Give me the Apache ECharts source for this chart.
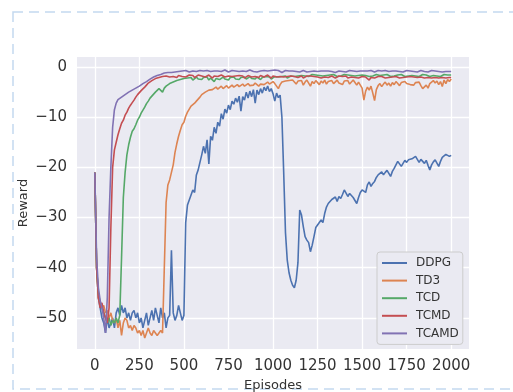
<!DOCTYPE html>
<html><head><meta charset="utf-8">
<script src="https://cdn.jsdelivr.net/npm/echarts@6/dist/echarts.min.js"></script>
<style>html,body{margin:0;padding:0;background:#fff;}#c{width:513px;height:392px;}</style>
</head><body><div id="c"></div>
<script>
// Episodes sampled every 10 steps (0..2000)
const episodes = Array.from({length: 201}, (_, i) => i * 10);
const xTicks = [0, 250, 500, 750, 1000, 1250, 1500, 1750, 2000];
const yTicks = [-50, -40, -30, -20, -10, 0];
const seriesNames = ['DDPG', 'TD3', 'TCD', 'TCMD', 'TCAMD'];

const DDPG = [
-21,-40,-46,-48,-50,-51,-53,-50,-52,-51,
-50,-52,-49,-48,-49.5,-47.5,-49,-48,-50,-49,
-50.5,-49,-48.5,-50,-49,-51,-50,-52,-50.5,-49,
-51.5,-50,-48.5,-50.5,-48,-49.5,-51,-48,-50,-49,
-52,-50,-49.5,-36.5,-49,-50.5,-49.5,-47.5,-49,-50.5,
-49.5,-31,-27.5,-26.5,-25.5,-24.5,-25,-21.5,-20.5,-19,
-17.5,-15.8,-17.2,-14.5,-19.3,-13.8,-14.6,-12.0,-13.2,-11.0,
-11.8,-9.3,-10.4,-8.4,-9.2,-7.6,-8.5,-6.8,-7.4,-6.2,
-7.0,-5.8,-8.8,-5.9,-6.6,-5.0,-6.2,-4.8,-5.9,-4.5,
-7.2,-4.6,-5.5,-4.3,-5.2,-4.0,-4.7,-3.8,-4.9,-4.3,
-5.3,-6.8,-5.2,-6.1,-5.6,-10,-21,-33,-38.5,-41,
-42.5,-43.5,-44,-42.5,-39,-28.5,-29.5,-31.8,-33.8,-34.5,
-35,-36.8,-35.5,-33.8,-32,-31.5,-31.2,-30.5,-31,-29.2,
-27.9,-27.2,-26.9,-26.4,-26.2,-25.9,-26.8,-25.8,-26.2,-25.4,
-24.5,-24.3,-25.8,-25.2,-25.6,-26.0,-26.2,-27.2,-26.0,-25.0,
-24.5,-24.2,-25.0,-23.5,-22.9,-23.8,-23.2,-22.8,-22.0,-21.5,
-21.2,-20.9,-21.5,-21.0,-20.6,-20.5,-21.8,-20.8,-20.2,-19.5,
-18.8,-18.5,-19.8,-19.2,-18.6,-19.0,-18.5,-18.8,-18.3,-18.2,
-17.8,-17.5,-19.0,-18.4,-18.8,-19.2,-18.6,-19.6,-20.5,-19.5,
-18.9,-18.5,-18.4,-19.8,-18.8,-18.0,-17.9,-17.4,-17.2,-17.8,
-17.6];

const TD3 = [
-21,-40,-46,-47,-48,-47.5,-49,-48.5,-50,-49,
-50.5,-51,-50,-52,-50.5,-53.5,-51,-50,-50.5,-52,
-51.5,-52.5,-51.5,-52,-53,-52.5,-53.5,-52.5,-54,-53,
-52,-53,-53.5,-52.5,-53,-53.5,-53,-52.5,-53,-40,
-27,-23.5,-22.5,-21,-19.5,-17,-15.3,-13.8,-12.6,-11.5,
-11,-9.8,-9,-8.4,-7.8,-7.6,-7.2,-6.8,-6.5,-6.0,
-5.5,-5.2,-5.0,-4.9,-4.6,-4.3,-4.5,-4.2,-4.0,-4.4,
-4.1,-3.8,-4.3,-4.0,-3.7,-4.2,-3.9,-3.6,-4.0,-3.7,
-3.5,-3.9,-3.6,-3.4,-3.8,-3.5,-3.3,-3.7,-3.4,-3.6,
-3.2,-3.5,-3.8,-3.4,-3.1,-3.5,-3.3,-3.0,-3.4,-3.2,
-2.9,-3.3,-3.6,-4.3,-3.5,-3.0,-3.3,-2.8,-3.1,-2.7,
-3.0,-2.6,-2.9,-3.4,-2.8,-3.1,-2.7,-3.6,-3.0,-2.6,
-3.2,-3.8,-2.9,-3.3,-2.7,-3.0,-3.5,-2.8,-3.2,-2.6,
-3.4,-2.9,-3.1,-2.7,-3.3,-3.0,-2.6,-3.2,-2.9,-3.5,
-2.8,-3.0,-2.7,-3.4,-3.0,-2.6,-3.1,-3.6,-3.0,-3.3,
-4.2,-6.6,-4.8,-4.0,-4.6,-3.8,-5.2,-6.7,-4.5,-3.7,
-3.3,-3.9,-3.4,-3.0,-3.6,-3.2,-3.8,-3.1,-3.5,-2.9,
-3.3,-3.7,-3.1,-3.4,-2.9,-3.3,-3.0,-3.5,-3.2,-3.6,
-3.1,-3.4,-3.0,-3.7,-4.3,-4.5,-3.6,-4.2,-3.3,-3.0,
-2.7,-3.2,-2.8,-3.5,-2.9,-3.9,-2.6,-3.3,-2.5,-2.9,
-2.4];

const TCD = [
-21,-40,-45,-47,-48,-49,-50,-51,-50,-51.5,
-50.5,-51,-50,-51,-49.5,-38,-26,-21,-17.5,-15.5,
-14,-12.8,-12.3,-11.5,-10.6,-10.0,-9.2,-8.6,-8.0,-7.3,
-6.8,-6.2,-5.8,-5.4,-5.0,-4.8,-4.3,-4.5,-5.0,-4.2,
-3.8,-3.6,-3.3,-3.1,-3.0,-2.8,-2.7,-2.6,-2.5,-2.4,
-2.3,-2.5,-2.2,-2.4,-2.1,-2.6,-2.3,-2.0,-2.4,-2.2,
-2.5,-2.1,-2.3,-2.0,-2.6,-2.2,-2.4,-2.9,-2.3,-2.1,
-2.5,-2.2,-2.0,-2.4,-2.2,-2.6,-2.1,-2.3,-2.0,-2.4,
-2.2,-2.5,-2.1,-2.3,-2.0,-2.4,-2.2,-1.9,-2.3,-2.1,
-2.4,-2.0,-2.2,-2.5,-2.1,-2.3,-1.9,-2.2,-2.0,-2.4,
-2.1,-1.9,-2.2,-2.0,-2.3,-1.9,-2.1,-1.8,-2.2,-2.0,
-1.8,-1.7,-1.9,-1.6,-1.8,-2.0,-1.7,-1.5,-1.8,-1.6,
-1.9,-1.7,-1.5,-1.8,-1.6,-1.9,-1.7,-1.6,-1.8,-1.5,
-1.7,-1.9,-1.6,-1.8,-1.5,-1.7,-1.9,-1.6,-1.8,-1.7,
-1.5,-1.8,-1.6,-1.9,-1.7,-1.5,-1.8,-1.6,-1.7,-1.9,
-1.6,-1.8,-1.7,-1.5,-1.9,-1.6,-1.8,-1.7,-1.5,-1.8,
-1.7,-1.9,-1.6,-1.8,-1.5,-1.7,-1.9,-1.6,-1.8,-1.7,
-1.6,-1.8,-1.5,-1.7,-1.9,-1.6,-1.8,-1.5,-1.7,-1.6,
-1.8,-1.6,-1.9,-1.7,-1.5,-1.8,-1.6,-1.7,-1.9,-1.6,
-1.7,-1.5,-1.8,-1.6,-1.9,-1.7,-1.5,-1.8,-1.6,-1.7,
-1.6];

const TCMD = [
-21,-40,-46,-48,-47,-49,-50,-51,-48,-32,
-20,-16.5,-15,-13.5,-12.3,-11.2,-10.6,-9.6,-9.0,-8.2,
-7.6,-7.1,-6.6,-6.0,-5.5,-5.1,-4.7,-4.4,-4.0,-3.6,
-3.2,-2.9,-2.7,-2.6,-2.3,-2.2,-2.1,-2.0,-1.9,-2.1,
-1.8,-1.9,-2.0,-1.7,-1.9,-1.8,-2.1,-1.7,-1.8,-1.9,
-1.7,-2.0,-1.8,-1.6,-1.9,-1.7,-2.1,-1.8,-1.6,-1.9,
-1.8,-1.7,-2.0,-1.8,-1.6,-1.9,-2.2,-1.8,-1.7,-1.9,
-1.8,-1.6,-1.9,-2.0,-1.7,-1.8,-2.1,-1.9,-1.7,-1.8,
-2.0,-1.7,-1.9,-1.8,-2.2,-1.9,-1.7,-1.8,-2.0,-1.7,
-1.9,-1.8,-2.1,-1.7,-1.9,-2.0,-1.8,-1.6,-1.9,-2.2,
-1.8,-1.7,-2.0,-2.3,-1.9,-1.8,-2.0,-1.7,-1.9,-2.1,
-1.8,-2.0,-1.9,-1.7,-2.1,-1.9,-1.8,-2.2,-1.9,-1.8,
-2.0,-1.8,-2.1,-1.9,-1.7,-2.0,-1.8,-2.2,-1.9,-2.0,
-1.8,-2.1,-1.9,-1.8,-2.0,-2.2,-1.9,-1.8,-2.1,-1.9,
-2.0,-1.8,-2.2,-1.9,-2.0,-1.8,-2.1,-1.9,-2.2,-2.0,
-1.9,-2.1,-2.0,-2.3,-2.6,-2.1,-1.9,-2.2,-2.0,-1.9,
-2.1,-1.9,-2.0,-2.2,-1.9,-2.1,-1.8,-2.0,-2.2,-1.9,
-2.0,-2.2,-1.9,-2.1,-1.8,-2.0,-2.2,-1.9,-2.1,-2.0,
-1.9,-2.1,-2.3,-2.0,-1.9,-2.2,-2.0,-2.1,-1.9,-2.2,
-2.0,-2.1,-1.9,-2.2,-2.0,-2.1,-1.9,-2.2,-2.0,-2.1,
-2.1];

const TCAMD = [
-21,-38,-44,-46.5,-48,-50,-53,-46,-30,-20,
-12,-8.5,-7.2,-6.5,-6.2,-6.0,-5.7,-5.5,-5.2,-5.0,
-4.7,-4.6,-4.3,-4.2,-3.9,-3.8,-3.6,-3.3,-3.2,-2.9,
-2.6,-2.4,-2.2,-2.0,-1.9,-1.7,-1.6,-1.5,-1.4,-1.2,
-1.3,-1.1,-1.0,-1.1,-0.9,-1.0,-0.8,-0.9,-0.7,-0.8,
-0.9,-0.7,-0.8,-1.0,-0.7,-0.8,-0.6,-0.9,-0.8,-0.7,
-0.9,-0.8,-1.0,-0.7,-0.8,-0.9,-0.7,-0.8,-1.1,-0.8,
-0.7,-0.9,-0.8,-0.6,-0.8,-1.0,-0.8,-0.7,-0.9,-0.8,
-0.7,-0.9,-1.1,-0.8,-0.7,-0.9,-0.8,-0.6,-0.8,-0.9,
-0.8,-1.0,-0.7,-0.8,-0.9,-0.7,-0.6,-0.8,-0.9,-0.7,
-0.5,-0.6,-0.8,-0.7,-0.9,-1.1,-0.8,-0.7,-0.9,-0.8,
-1.0,-0.8,-0.7,-0.9,-0.8,-1.0,-0.9,-0.7,-0.8,-1.0,
-0.8,-0.9,-0.7,-0.8,-1.0,-0.9,-0.7,-0.8,-0.9,-0.8,
-1.0,-0.8,-0.7,-0.9,-0.8,-1.1,-0.9,-0.8,-0.7,-0.9,
-0.8,-1.0,-0.8,-0.7,-0.9,-0.8,-1.0,-0.9,-0.7,-0.8,
-0.7,-0.8,-0.6,-0.8,-0.9,-0.7,-0.8,-1.0,-0.8,-0.7,
-0.9,-0.8,-1.0,-0.7,-0.8,-0.9,-0.7,-0.8,-1.0,-0.8,
-0.7,-0.9,-0.8,-1.0,-0.8,-0.7,-0.9,-0.8,-0.7,-0.9,
-0.8,-1.0,-0.9,-0.7,-0.8,-0.9,-0.8,-1.0,-0.8,-0.7,
-0.9,-0.8,-0.7,-0.9,-0.8,-1.0,-0.8,-0.9,-0.8,-0.9,
-0.9];

const seriesValues = [DDPG, TD3, TCD, TCMD, TCAMD];
const colors = ['#4C72B0', '#DD8452', '#55A868', '#C44E52', '#8172B3'];
const fmt = v => (v < 0 ? '\u2212' + Math.abs(v) : String(v));

const chart = echarts.init(document.getElementById('c'), null, {renderer: 'canvas'});
const option = {
  animation: false,
  backgroundColor: '#ffffff',
  textStyle: {fontFamily: 'DejaVu Sans'},
  graphic: [{
    type: 'rect', silent: true, z: -10,
    shape: {x: 13, y: 12, width: 700, height: 377},
    style: {fill: 'none', stroke: '#c3d9ef', lineWidth: 1.5, lineDash: [10, 6]}
  }],
  grid: {left: 77, top: 57, width: 392, height: 292, show: true, backgroundColor: '#EAEAF2', borderWidth: 0, containLabel: false, outerBoundsMode: 'none'},
  xAxis: {
    type: 'value', min: -100, max: 2100,
    axisLine: {show: false},
    axisTick: {show: false, customValues: xTicks},
    axisLabel: {customValues: xTicks, formatter: fmt, fontSize: 15, color: '#333', margin: 10, fontFamily: 'DejaVu Sans'},
    splitLine: {show: true, lineStyle: {color: '#ffffff', width: 1.3}},
    name: 'Episodes', nameLocation: 'middle', nameGap: 30, nameMoveOverlap: false,
    nameTextStyle: {fontSize: 13, color: '#333', fontFamily: 'DejaVu Sans'}
  },
  yAxis: {
    type: 'value', min: -56.2, max: 2.0,
    axisLine: {show: false},
    axisTick: {show: false, customValues: yTicks},
    axisLabel: {customValues: yTicks, formatter: fmt, fontSize: 15, color: '#333', margin: 10, fontFamily: 'DejaVu Sans'},
    splitLine: {show: true, lineStyle: {color: '#ffffff', width: 1.3}},
    name: 'Reward', nameLocation: 'middle', nameGap: 47, nameMoveOverlap: false,
    nameTextStyle: {fontSize: 13, color: '#333', fontFamily: 'DejaVu Sans'}
  },
  legend: {
    orient: 'vertical', left: 377, top: 252,
    data: seriesNames,
    icon: 'rect', itemWidth: 25, itemHeight: 2, itemGap: 3.6,
    padding: [4, 4, 4, 5],
    backgroundColor: '#EAEAF2', borderColor: '#cccccc', borderWidth: 1, borderRadius: 3,
    textStyle: {fontSize: 12, color: '#333', lineHeight: 14, padding: [0, 0, 0, 4], fontFamily: 'DejaVu Sans'}
  },
  series: seriesNames.map((name, k) => ({
    name: name, type: 'line', showSymbol: false, symbol: 'none',
    color: colors[k],
    lineStyle: {color: colors[k], width: 1.6},
    data: episodes.map((e, i) => [e, seriesValues[k][i]])
  }))
};
chart.setOption(option);
</script></body></html>
